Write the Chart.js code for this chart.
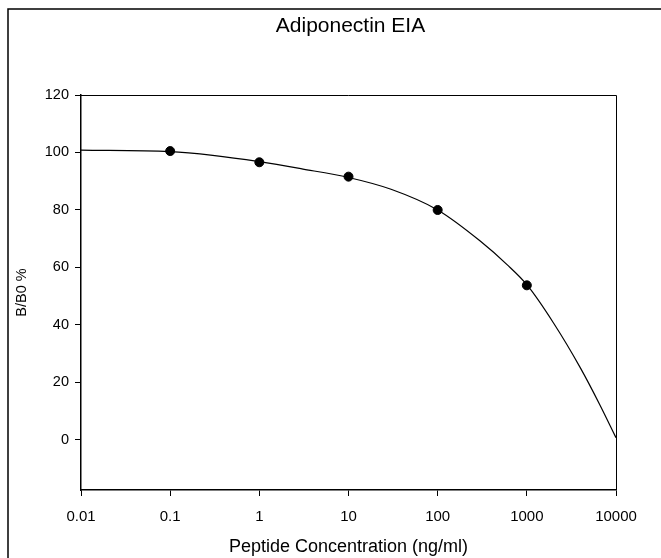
<!doctype html>
<html lang="en">
  <head>
    <meta charset="utf-8">
    <title>Adiponectin EIA</title>
    <style>
      * {
        margin: 0;
        padding: 0;
      }
      body {
        background: white;
      }
      .chartBox {
        width: 661px;
        height: 558px;
      }
    </style>
  </head>
  <body>
    <div class="chartBox">
      <canvas id="myChart"></canvas>
    </div>
    <script src="https://cdn.jsdelivr.net/npm/chart.js/dist/chart.umd.min.js"></script>
    <script>
    // measured standards
    const concentrations = [0.1, 1, 10, 100, 1000];
    const bOverB0 = [100.5, 96.6, 91.6, 80.0, 53.8];

    // fitted curve
    const curveX = [0.01, 0.1, 0.3, 1, 3, 10, 30, 100, 300, 600, 1000, 2000, 4000, 6600, 10000];
    const curveY = [100.8, 100.3, 99.0, 96.8, 94.3, 91.3, 87.2, 80.0, 69.2, 61.0, 54.0, 40.6, 25.0, 12.2, 0.8];

    // axis ticks
    const xTicks = [0.01, 0.1, 1, 10, 100, 1000, 10000];
    const xTickLabels = ['0.01', '0.1', '1', '10', '100', '1000', '10000'];
    const yTicks = [0, 20, 40, 60, 80, 100, 120];

    const FONT = 'Liberation Sans, Arial, sans-serif';

    // frame round the plot and the outer picture border
    const framePlugin = {
      id: 'frame',
      afterDraw(chart) {
        const {ctx, chartArea: a} = chart;
        ctx.save();
        ctx.strokeStyle = '#000';
        ctx.lineWidth = 1;
        ctx.beginPath();
        ctx.moveTo(a.left, a.top + 0.5);
        ctx.lineTo(a.right + 0.5, a.top + 0.5);
        ctx.lineTo(a.right + 0.5, a.bottom);
        ctx.stroke();
        ctx.lineWidth = 1.5;
        ctx.beginPath();
        ctx.moveTo(8, chart.height);
        ctx.lineTo(8, 9);
        ctx.lineTo(chart.width, 9);
        ctx.stroke();
        ctx.restore();
      }
    };

    const data = {
      datasets: [{
        label: 'fit',
        type: 'line',
        data: curveX.map((x, i) => ({x: x, y: curveY[i]})),
        borderColor: '#000',
        borderWidth: 1.2,
        pointRadius: 0,
        cubicInterpolationMode: 'monotone',
        fill: false
      }, {
        label: 'standards',
        type: 'scatter',
        data: concentrations.map((x, i) => ({x: x, y: bOverB0[i]})),
        backgroundColor: '#000',
        borderColor: '#000',
        pointRadius: 4.5
      }]
    };

    const config = {
      type: 'scatter',
      data,
      options: {
        responsive: true,
        maintainAspectRatio: false,
        animation: false,
        events: [],
        layout: {
          // left padding pushes the title centre to the right like the original
          padding: {left: 40, right: 0, top: 0, bottom: 0}
        },
        plugins: {
          legend: {display: false},
          tooltip: {enabled: false},
          title: {
            display: true,
            text: 'Adiponectin EIA',
            color: '#000',
            font: {family: FONT, size: 21, weight: 'normal'},
            padding: {top: 13.4, bottom: 56.4}
          }
        },
        scales: {
          x: {
            type: 'logarithmic',
            min: 0.01,
            max: 10000,
            afterBuildTicks: (scale) => {
              scale.ticks = xTicks.map(v => ({value: v}));
            },
            afterFit: (scale) => {
              scale.height = 68;
            },
            ticks: {
              color: '#000',
              font: {family: FONT, size: 15},
              padding: 12,
              maxRotation: 0,
              autoSkip: false,
              callback: (v) => xTickLabels[xTicks.indexOf(v)]
            },
            grid: {
              drawOnChartArea: false,
              tickLength: 6,
              color: '#000'
            },
            border: {color: '#000', width: 1.5},
            title: {
              display: true,
              text: 'Peptide Concentration (ng/ml)',
              color: '#000',
              font: {family: FONT, size: 18},
              padding: {top: 0, bottom: 0}
            }
          },
          y: {
            min: -17.4,
            max: 120,
            afterBuildTicks: (scale) => {
              scale.ticks = yTicks.map(v => ({value: v}));
            },
            afterFit: (scale) => {
              scale.width = 41;
            },
            ticks: {
              color: '#000',
              font: {family: FONT, size: 14.5},
              padding: 6
            },
            grid: {
              drawOnChartArea: false,
              tickLength: 6,
              color: '#000'
            },
            border: {color: '#000', width: 1.5},
            title: {
              display: true,
              text: 'B/B0 %',
              color: '#000',
              font: {family: FONT, size: 14.5},
              padding: {top: -26.7, bottom: 0}
            }
          },
          // empty right-hand axis, only keeps room at the right of the plot
          y2: {
            position: 'right',
            min: 0,
            max: 1,
            afterFit: (scale) => {
              scale.width = 45;
            },
            ticks: {display: false},
            grid: {display: false},
            border: {display: false}
          }
        }
      },
      plugins: [framePlugin]
    };

    const ctx = document.getElementById('myChart');
    const myChart = new Chart(ctx, config);
    </script>
  </body>
</html>
